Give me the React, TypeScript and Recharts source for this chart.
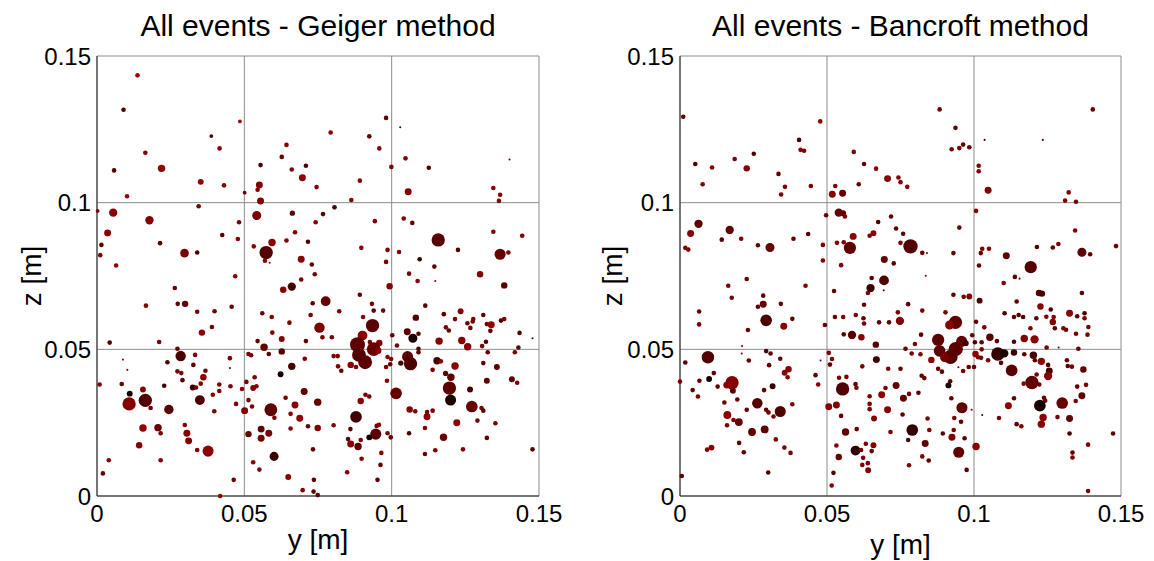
import {
  ScatterChart,
  Scatter,
  XAxis,
  YAxis,
  ZAxis,
  CartesianGrid,
  Cell,
  Label,
} from 'recharts';

const FONT = '"Liberation Sans", Arial, Helvetica, sans-serif';

const AXIS_TICKS = [0, 0.05, 0.1, 0.15];

// [y (mm), z (mm), amplitude, shade (0 = black .. 1 = red)]
type EventRow = [number, number, number, number];

const geigerEvents: EventRow[] = [
  [13.75, 143.4, 5, 1], [9.0, 131.7, 5, 0.4], [48.5, 127.7, 4, 1], [38.8, 122.7, 4, 0.4],
  [41.6, 118.5, 5, 0.8], [16.4, 117.0, 5, 0.8], [5.8, 111.0, 5, 0.4], [21.9, 111.7, 10, 0.9],
  [35.2, 107.1, 7, 0.9], [43.1, 105.9, 5, 0.8], [10.2, 102.2, 5, 0.9], [50.1, 103.4, 4, 0.6],
  [55.5, 112.8, 5, 0.4], [55.1, 106.0, 9, 0.8], [54.5, 104.4, 5, 0.8], [55.5, 100.6, 9, 0.8],
  [64.3, 119.7, 5, 0.8], [62.7, 115.6, 5, 0.6], [66.1, 111.3, 5, 0.8], [70.9, 112.6, 5, 0.4],
  [69.7, 108.5, 9, 0.85], [0.2, 97.2, 4, 0.8], [5.5, 96.6, 12, 0.85], [17.8, 94.0, 12, 0.8],
  [3.6, 89.7, 9, 0.85], [1.5, 85.6, 5, 0.5], [1.1, 82.1, 5, 0.8], [6.5, 78.6, 5, 0.9],
  [21.4, 86.2, 5, 0.5], [29.7, 82.8, 13, 0.75], [34.0, 83.0, 5, 0.4], [34.5, 98.8, 5, 0.7],
  [48.2, 93.3, 5, 0.7], [42.5, 89.0, 5, 0.5], [47.8, 87.6, 5, 0.8], [54.2, 95.6, 14, 0.75],
  [53.2, 85.1, 5, 0.8], [59.4, 86.4, 10, 0.85], [57.4, 83.0, 28, 0.45], [57.0, 80.2, 5, 0.85],
  [58.6, 79.5, 2.5, 0.8], [66.3, 96.4, 6, 0.5], [67.2, 89.9, 5, 0.8], [64.3, 87.1, 5, 0.8],
  [71.6, 86.7, 5, 0.4], [69.3, 80.7, 9, 0.85],
  [98.1, 128.9, 5, 0.55], [102.9, 125.7, 2.5, 0.3], [79.3, 123.9, 5, 0.8], [92.4, 122.6, 5, 0.6],
  [95.8, 118.5, 5, 0.8], [104.7, 115.1, 5, 0.8], [99.9, 112.2, 5, 0.8], [112.6, 111.9, 5, 0.4],
  [140.0, 114.7, 2.5, 0.5], [74.5, 105.3, 5, 0.8], [89.2, 107.5, 5, 0.8], [105.6, 103.7, 9, 0.8],
  [86.3, 100.9, 5, 0.8], [134.5, 105.0, 5, 0.85], [136.8, 102.7, 5, 0.85], [136.4, 100.6, 5, 0.85],
  [80.6, 98.4, 5, 0.4], [76.7, 96.1, 5, 0.55], [74.2, 93.3, 5, 0.8], [94.3, 93.7, 5, 0.75],
  [104.1, 94.6, 5, 0.75], [107.0, 93.1, 5, 0.6], [115.8, 87.3, 28, 0.5], [134.5, 90.1, 5, 0.8],
  [144.3, 88.7, 5, 0.8], [89.7, 84.6, 5, 0.8], [98.6, 83.9, 5, 0.8], [102.5, 83.2, 5, 0.8],
  [122.5, 83.9, 5, 0.45], [136.8, 82.4, 20, 0.6], [139.6, 83.0, 5, 0.8], [72.9, 78.9, 5, 0.55],
  [98.1, 79.8, 5, 0.75], [109.5, 80.7, 5, 0.3], [114.5, 78.2, 5, 0.5],
  [46.9, 74.9, 5, 0.8], [26.4, 70.9, 5, 0.6], [16.6, 64.9, 5, 0.85], [27.4, 65.5, 5, 0.6],
  [29.9, 65.5, 8, 0.55], [34.0, 62.8, 5, 0.7], [39.9, 63.0, 5, 0.7], [45.7, 64.5, 5, 0.6],
  [35.6, 55.7, 8, 0.9], [39.0, 57.6, 5, 0.6], [21.1, 52.5, 5, 0.7], [4.3, 52.3, 5, 0.4],
  [27.3, 50.2, 5, 0.5], [28.4, 47.7, 18, 0.4], [33.3, 48.1, 5, 0.75], [23.9, 45.6, 5, 0.4],
  [8.8, 46.5, 2.5, 0.8], [10.3, 43.0, 2.5, 0.8], [27.3, 42.5, 5, 0.75], [28.6, 41.9, 5, 0.75],
  [32.7, 44.7, 5, 0.55], [36.8, 42.7, 5, 0.75], [36.1, 40.5, 8, 0.8], [29.0, 39.5, 5, 0.55],
  [35.2, 38.3, 5, 0.8], [32.5, 37.0, 7, 0.25], [33.6, 37.0, 5, 0.6], [22.8, 37.6, 5, 0.35],
  [8.4, 38.2, 5, 0.6], [0.9, 38.0, 5, 0.8], [11.1, 34.9, 7, 0.0], [15.6, 36.3, 7, 0.85],
  [10.9, 31.4, 28, 0.8], [16.4, 32.6, 28, 0.45], [18.2, 30.0, 5, 0.7], [24.4, 29.5, 15, 0.5],
  [34.9, 32.7, 16, 0.4], [39.3, 34.5, 5, 0.8], [41.5, 38.0, 5, 0.8], [41.5, 35.8, 5, 0.8],
  [45.1, 47.0, 5, 0.75], [45.1, 43.6, 2.5, 0.8], [45.3, 37.4, 5, 0.8], [47.2, 31.4, 5, 0.75],
  [39.8, 28.9, 5, 0.75], [15.6, 23.2, 10, 0.9], [20.7, 23.3, 10, 0.6], [21.6, 21.4, 5, 0.7],
  [29.8, 24.2, 5, 0.75], [30.5, 21.4, 9, 0.8], [31.1, 18.8, 9, 0.8], [14.3, 17.3, 8, 0.8],
  [34.0, 15.7, 5, 0.8], [37.7, 15.3, 20, 0.85], [4.0, 12.2, 5, 0.8], [21.6, 12.2, 5, 0.8],
  [2.0, 7.7, 5, 0.6], [46.4, 5.5, 5, 0.6], [41.8, 0.0, 5, 0.9],
  [51.4, 48.4, 5, 0.75], [52.3, 48.0, 5, 0.75], [54.5, 52.8, 5, 0.6], [56.7, 50.7, 10, 0.6],
  [56.1, 62.3, 5, 0.6], [59.3, 61.0, 5, 0.75], [59.5, 55.7, 5, 0.75], [62.7, 53.5, 7, 0.8],
  [62.7, 49.3, 8, 0.45], [58.3, 48.4, 5, 0.55], [65.3, 59.1, 5, 0.7], [63.2, 70.3, 8, 0.85],
  [66.1, 71.4, 12, 0.3], [69.3, 73.8, 5, 0.8], [70.9, 52.8, 5, 0.55], [72.5, 61.7, 5, 0.75],
  [70.5, 46.8, 5, 0.75], [66.1, 44.2, 10, 0.35], [62.3, 41.5, 7, 0.0], [53.5, 40.5, 5, 0.75],
  [50.7, 38.9, 5, 0.75], [49.2, 36.5, 5, 0.8], [53.0, 36.8, 7, 0.8], [54.1, 37.4, 5, 0.8],
  [51.4, 32.7, 5, 0.75], [52.6, 30.5, 5, 0.7], [50.1, 29.1, 9, 0.8], [59.0, 29.4, 26, 0.55],
  [60.2, 26.7, 5, 0.75], [64.0, 33.5, 5, 0.7], [67.2, 31.0, 9, 0.85], [65.7, 28.0, 5, 0.8],
  [68.8, 26.5, 9, 0.9], [70.3, 35.6, 9, 0.55], [71.6, 23.8, 5, 0.55], [65.7, 23.0, 5, 0.8],
  [51.4, 21.1, 8, 0.6], [55.7, 22.8, 9, 0.55], [55.7, 19.7, 9, 0.7], [58.3, 21.4, 9, 0.75],
  [60.1, 13.5, 14, 0.25], [53.0, 11.5, 5, 0.8], [55.1, 9.0, 5, 0.8], [64.9, 6.5, 7, 0.8],
  [69.8, 2.0, 5, 0.8],
  [73.9, 75.6, 5, 0.75], [105.9, 75.8, 5, 0.8], [108.8, 73.3, 5, 0.8], [114.8, 73.3, 2.5, 0.8],
  [130.0, 75.6, 8, 0.8], [138.2, 71.8, 8, 0.5], [99.3, 71.5, 8, 0.8], [89.2, 68.6, 5, 0.55],
  [77.6, 66.4, 16, 0.55], [73.2, 65.7, 5, 0.55], [93.3, 65.5, 5, 0.75], [93.9, 63.2, 5, 0.55],
  [97.1, 63.2, 5, 0.7], [82.2, 63.0, 5, 0.8], [111.4, 64.9, 5, 0.5], [117.7, 62.0, 5, 0.5],
  [123.4, 63.0, 7, 0.8], [131.1, 61.7, 5, 0.5], [108.2, 60.8, 8, 0.4], [90.3, 61.0, 5, 0.8],
  [93.5, 58.1, 28, 0.5], [75.5, 57.4, 18, 0.75], [90.1, 54.7, 16, 0.85], [76.5, 54.1, 5, 0.75],
  [79.7, 54.1, 5, 0.75], [88.4, 51.6, 35, 0.55], [92.6, 52.5, 5, 0.75], [95.8, 52.2, 8, 0.8],
  [93.9, 50.1, 30, 0.6], [95.4, 49.5, 8, 0.8], [88.9, 48.1, 30, 0.45], [91.0, 45.6, 30, 0.5],
  [80.3, 47.7, 5, 0.75], [81.7, 47.7, 5, 0.75], [81.8, 44.2, 5, 0.75], [82.9, 42.7, 5, 0.55],
  [86.1, 44.7, 8, 0.85], [87.9, 44.0, 5, 0.75], [98.6, 47.4, 5, 0.8], [99.8, 46.7, 5, 0.8],
  [98.1, 44.0, 5, 0.8], [99.5, 44.9, 5, 0.55], [100.2, 54.8, 5, 0.55], [101.8, 51.3, 5, 0.75],
  [105.3, 56.0, 9, 0.5], [107.2, 53.8, 14, 0.0], [109.1, 55.3, 5, 0.5], [109.1, 50.2, 5, 0.4],
  [109.1, 49.0, 5, 0.5], [105.4, 47.5, 20, 0.55], [106.4, 45.1, 28, 0.4], [103.1, 45.3, 6, 0.4],
  [116.1, 52.8, 10, 0.8], [121.5, 60.3, 5, 0.75], [118.4, 57.5, 5, 0.75], [119.4, 56.4, 5, 0.55],
  [123.8, 53.0, 10, 0.8], [125.8, 50.9, 10, 0.8], [125.7, 58.9, 5, 0.6], [126.7, 57.3, 5, 0.7],
  [127.5, 59.5, 5, 0.75], [127.7, 60.3, 5, 0.75], [132.3, 58.6, 5, 0.75], [133.8, 58.4, 9, 0.85],
  [133.5, 56.3, 5, 0.55], [137.1, 59.8, 5, 0.4], [138.2, 60.3, 5, 0.75], [143.4, 55.6, 5, 0.5],
  [147.8, 53.8, 2.5, 0.5], [132.0, 52.6, 5, 0.5], [130.7, 51.1, 5, 0.75], [132.6, 49.0, 5, 0.55],
  [143.0, 50.6, 5, 0.55], [141.8, 49.0, 5, 0.75], [115.4, 46.1, 10, 0.35], [116.7, 45.9, 5, 0.85],
  [113.9, 43.0, 5, 0.75], [121.5, 44.3, 10, 0.85], [118.3, 41.8, 6, 0.5], [120.1, 40.5, 10, 0.5],
  [119.6, 36.8, 28, 0.55], [120.0, 32.7, 20, 0.05], [126.6, 36.3, 7, 0.35], [131.1, 45.3, 5, 0.5],
  [135.7, 44.0, 7, 0.5], [132.3, 39.3, 7, 0.55], [140.8, 39.8, 7, 0.55], [142.6, 38.6, 5, 0.75],
  [127.2, 30.5, 22, 0.6], [130.5, 30.0, 5, 0.75], [131.1, 29.1, 5, 0.55], [129.1, 25.7, 5, 0.75],
  [135.2, 24.8, 5, 0.75], [122.1, 25.0, 9, 0.85], [117.6, 20.0, 10, 0.6], [124.2, 15.9, 5, 0.8],
  [132.3, 19.8, 5, 0.55], [147.8, 15.9, 5, 0.5], [113.9, 29.1, 5, 0.75], [112.0, 28.6, 5, 0.75],
  [112.0, 27.0, 9, 0.85], [111.3, 23.2, 5, 0.75], [106.1, 29.5, 8, 0.8], [108.0, 28.9, 5, 0.75],
  [105.9, 21.4, 5, 0.35], [114.8, 15.6, 5, 0.75], [111.3, 14.3, 5, 0.55], [101.5, 35.0, 22, 0.6],
  [98.4, 39.3, 5, 0.8], [99.7, 20.0, 5, 0.55], [98.6, 21.4, 5, 0.75], [94.6, 21.1, 20, 0.5],
  [92.4, 20.0, 7, 0.05], [95.7, 24.3, 5, 0.8], [94.9, 23.9, 5, 0.8], [87.9, 27.0, 22, 0.3],
  [89.5, 32.4, 8, 0.85], [91.1, 34.5, 5, 0.75], [92.4, 33.9, 5, 0.75], [86.0, 22.8, 5, 0.5],
  [85.2, 19.4, 5, 0.55], [86.1, 17.7, 9, 0.8], [88.6, 16.9, 10, 0.5], [89.5, 19.1, 5, 0.8],
  [80.3, 24.1, 5, 0.8], [74.9, 32.0, 10, 0.6], [74.9, 23.2, 8, 0.8], [73.3, 15.9, 5, 0.55],
  [96.5, 14.7, 5, 0.8], [89.8, 12.7, 5, 0.8], [96.2, 10.6, 5, 0.55], [84.9, 8.1, 5, 0.8],
  [95.2, 5.5, 5, 0.55], [73.6, 5.5, 5, 0.55], [73.5, 1.5, 5, 0.55], [74.9, 0.3, 5, 0.6],
];

const bancroftEvents: EventRow[] = [
  [1.1, 129.3, 5, 0.55], [47.7, 127.7, 5, 0.85], [40.5, 121.4, 5, 0.4], [41.0, 118.0, 5, 0.8],
  [42.2, 117.7, 5, 0.8], [5.2, 113.2, 5, 0.4], [10.9, 112.0, 5, 0.8], [18.6, 114.9, 5, 0.75],
  [25.1, 116.7, 5, 0.4], [22.7, 111.7, 8, 0.85], [7.7, 106.3, 5, 0.8], [33.5, 109.8, 5, 0.55],
  [35.7, 105.4, 5, 0.75], [34.4, 102.8, 5, 0.75], [44.5, 105.7, 5, 0.75], [59.1, 117.3, 5, 0.8],
  [62.6, 113.2, 5, 0.55], [66.7, 111.6, 5, 0.8], [70.6, 108.2, 9, 0.85], [60.8, 106.3, 5, 0.55],
  [52.8, 105.7, 5, 0.8], [51.8, 102.9, 9, 0.85], [55.3, 103.2, 9, 0.6], [49.7, 95.7, 5, 0.6],
  [54.0, 96.6, 12, 0.55], [55.5, 96.4, 7, 0.55], [56.1, 95.3, 5, 0.75], [6.3, 92.8, 12, 0.55],
  [3.6, 89.5, 9, 0.85], [16.9, 90.7, 12, 0.55], [14.2, 87.4, 5, 0.4], [20.8, 87.7, 5, 0.75],
  [26.5, 85.5, 5, 0.55], [30.6, 84.7, 14, 0.6], [38.6, 87.7, 5, 0.55], [43.6, 89.3, 5, 0.5],
  [1.8, 84.6, 5, 0.8], [2.8, 84.0, 5, 0.8], [48.6, 85.6, 5, 0.75], [48.6, 80.3, 5, 0.8],
  [53.4, 86.3, 5, 0.8], [55.7, 86.5, 5, 0.75], [58.9, 88.5, 9, 0.85], [57.8, 84.6, 24, 0.55],
  [54.8, 78.7, 5, 0.8], [64.5, 88.7, 5, 0.8], [65.8, 89.6, 7, 0.85], [67.4, 93.4, 5, 0.4],
  [71.8, 95.3, 5, 0.55], [69.5, 80.6, 9, 0.6], [72.7, 79.3, 5, 0.55],
  [88.3, 131.8, 5, 0.6], [140.4, 131.8, 5, 0.6], [93.7, 125.5, 5, 0.6], [103.6, 121.4, 2.5, 0.3],
  [123.4, 121.4, 2.5, 0.5], [92.4, 118.2, 5, 0.75], [95.0, 118.6, 5, 0.75], [96.3, 119.8, 5, 0.6],
  [98.4, 118.9, 5, 0.6], [101.6, 112.6, 5, 0.75], [101.6, 110.7, 5, 0.75], [74.3, 108.6, 5, 0.8],
  [75.0, 107.0, 5, 0.8], [77.3, 105.4, 5, 0.8], [104.8, 104.2, 9, 0.8], [132.2, 103.5, 5, 0.8],
  [131.0, 100.7, 5, 0.75], [134.7, 100.3, 5, 0.75], [100.7, 97.2, 5, 0.8], [73.5, 91.2, 5, 0.55],
  [75.9, 89.4, 5, 0.55], [75.0, 86.3, 5, 0.75], [78.4, 85.1, 32, 0.45], [82.4, 82.9, 5, 0.6],
  [84.0, 82.8, 2.5, 0.8], [95.0, 91.5, 5, 0.6], [93.0, 82.8, 5, 0.6], [102.8, 84.3, 5, 0.75],
  [105.1, 84.3, 5, 0.75], [102.3, 82.8, 5, 0.6], [101.7, 78.6, 5, 0.6], [111.0, 81.9, 9, 0.55],
  [121.4, 84.9, 5, 0.4], [126.8, 84.7, 5, 0.55], [128.7, 85.9, 5, 0.75], [134.4, 90.5, 5, 0.8],
  [136.7, 83.1, 14, 0.55], [139.5, 82.4, 5, 0.55], [148.3, 85.2, 5, 0.6], [119.3, 78.0, 24, 0.45],
  [22.7, 74.0, 5, 0.55], [16.4, 71.7, 5, 0.75], [17.6, 67.6, 5, 0.75], [42.7, 71.7, 5, 0.8],
  [28.3, 68.3, 5, 0.55], [28.3, 65.4, 9, 0.55], [26.5, 64.5, 5, 0.55], [34.3, 65.5, 5, 0.55],
  [6.5, 62.9, 5, 0.55], [6.5, 58.5, 5, 0.75], [29.3, 59.9, 22, 0.4], [38.2, 60.4, 5, 0.55],
  [35.3, 57.9, 9, 0.85], [23.1, 56.6, 5, 0.55], [21.1, 51.1, 2.5, 0.8], [21.0, 48.6, 2.5, 0.8],
  [9.5, 47.3, 25, 0.45], [1.8, 45.5, 5, 0.5], [23.4, 46.2, 5, 0.55], [29.3, 49.4, 5, 0.4],
  [30.8, 48.6, 5, 0.55], [34.1, 46.8, 5, 0.55], [30.3, 44.6, 5, 0.55], [36.9, 43.2, 8, 0.85],
  [35.6, 42.0, 7, 0.85], [36.6, 40.5, 5, 0.8], [11.5, 41.9, 5, 0.55], [9.9, 39.9, 7, 0.0],
  [6.6, 39.3, 5, 0.6], [0.0, 39.0, 5, 0.75], [4.3, 36.1, 5, 0.55], [6.1, 33.9, 5, 0.75],
  [12.8, 37.3, 5, 0.55], [17.7, 38.6, 28, 0.8], [15.9, 37.8, 9, 0.85], [18.0, 35.9, 7, 0.5],
  [19.5, 32.9, 5, 0.55], [15.1, 31.9, 5, 0.55], [28.6, 36.1, 5, 0.55], [31.5, 37.4, 7, 0.25],
  [26.3, 31.6, 18, 0.45], [22.7, 29.4, 5, 0.55], [29.3, 29.4, 5, 0.55], [30.1, 28.5, 5, 0.75],
  [31.8, 27.1, 5, 0.75], [34.1, 28.8, 20, 0.45], [38.2, 31.3, 5, 0.75], [16.1, 27.6, 11, 0.85],
  [16.0, 24.1, 5, 0.75], [18.2, 25.9, 5, 0.75], [20.0, 25.2, 11, 0.55], [24.5, 21.8, 11, 0.55],
  [28.8, 22.7, 11, 0.55], [32.6, 19.3, 5, 0.75], [20.1, 18.1, 5, 0.55], [21.7, 14.9, 5, 0.55],
  [9.2, 15.8, 5, 0.75], [10.7, 16.5, 7, 0.8], [35.5, 16.5, 5, 0.75], [37.6, 14.7, 5, 0.75],
  [30.0, 8.0, 5, 0.4], [0.6, 6.8, 5, 0.55], [49.3, 58.3, 5, 0.55], [47.8, 46.2, 2.5, 0.8],
  [46.1, 41.2, 5, 0.55], [47.0, 38.0, 5, 0.75],
  [52.4, 69.9, 5, 0.55], [52.7, 61.0, 5, 0.55], [55.5, 61.0, 5, 0.75], [55.7, 55.1, 5, 0.55],
  [58.5, 54.9, 12, 0.5], [61.7, 54.1, 8, 0.85], [59.8, 61.7, 5, 0.75], [62.4, 60.6, 5, 0.55],
  [62.6, 58.8, 5, 0.75], [62.6, 65.2, 5, 0.55], [63.9, 69.2, 5, 0.8], [64.8, 70.9, 12, 0.3],
  [65.2, 74.3, 5, 0.55], [69.3, 70.1, 2.5, 0.8], [69.4, 73.5, 16, 0.45], [67.7, 59.2, 5, 0.55],
  [71.1, 59.2, 5, 0.55], [66.6, 51.6, 8, 0.5], [66.8, 46.5, 9, 0.3], [50.6, 48.8, 5, 0.75],
  [51.7, 46.7, 5, 0.75], [51.0, 44.8, 5, 0.55], [54.1, 40.3, 5, 0.75], [56.6, 40.6, 5, 0.75],
  [55.3, 36.5, 28, 0.45], [59.7, 38.2, 5, 0.55], [60.0, 36.9, 5, 0.75], [62.0, 44.2, 5, 0.75],
  [70.8, 43.4, 5, 0.75], [69.9, 36.8, 5, 0.75], [64.5, 34.0, 5, 0.75], [68.6, 34.5, 9, 0.85],
  [64.5, 31.4, 5, 0.75], [64.5, 29.6, 5, 0.75], [70.6, 29.4, 9, 0.85], [66.0, 26.4, 7, 0.8],
  [50.6, 30.4, 9, 0.8], [53.2, 31.0, 9, 0.8], [54.8, 27.3, 5, 0.55], [56.3, 21.8, 10, 0.55],
  [60.1, 22.8, 5, 0.55], [71.6, 21.8, 5, 0.75], [53.2, 17.2, 5, 0.75], [59.7, 15.5, 16, 0.2],
  [61.6, 15.7, 5, 0.75], [63.2, 17.8, 5, 0.75], [65.8, 17.3, 7, 0.8], [65.2, 15.3, 5, 0.55],
  [54.0, 13.3, 8, 0.55], [62.3, 13.0, 5, 0.75], [63.9, 11.2, 5, 0.75], [62.0, 10.6, 5, 0.75],
  [64.0, 8.8, 7, 0.8], [52.2, 7.9, 5, 0.4], [51.6, 3.6, 5, 0.75],
  [83.6, 75.1, 2.5, 0.8], [113.9, 74.7, 5, 0.5], [115.5, 74.1, 2.5, 0.8], [110.1, 72.6, 5, 0.8],
  [93.0, 68.6, 5, 0.55], [96.5, 67.9, 5, 0.75], [98.4, 68.0, 7, 0.8], [101.9, 66.6, 7, 0.4],
  [77.6, 65.4, 5, 0.55], [74.1, 62.6, 5, 0.75], [82.4, 63.2, 5, 0.75], [90.3, 62.6, 5, 0.75],
  [74.8, 59.7, 12, 0.8], [93.7, 59.2, 28, 0.55], [91.7, 58.3, 14, 0.85], [100.7, 59.4, 5, 0.55],
  [103.5, 57.5, 5, 0.75], [114.5, 66.3, 5, 0.5], [110.4, 62.3, 5, 0.4], [113.6, 61.0, 5, 0.5],
  [115.2, 61.7, 5, 0.5], [116.7, 61.0, 5, 0.4], [121.2, 60.6, 5, 0.55], [122.1, 69.2, 8, 0.5],
  [123.1, 69.0, 8, 0.35], [136.7, 69.2, 5, 0.5], [122.6, 64.6, 8, 0.85], [126.1, 63.6, 5, 0.4],
  [124.6, 61.1, 5, 0.75], [127.1, 61.0, 5, 0.75], [126.8, 59.3, 8, 0.85], [132.5, 62.3, 9, 0.85],
  [135.1, 61.3, 5, 0.5], [137.6, 62.3, 5, 0.4], [137.6, 60.6, 5, 0.75], [127.5, 57.2, 5, 0.5],
  [130.4, 57.2, 5, 0.75], [131.3, 56.7, 5, 0.75], [134.7, 55.3, 5, 0.75], [138.9, 57.6, 5, 0.75],
  [138.6, 55.0, 5, 0.75], [119.2, 57.2, 5, 0.75], [117.1, 53.7, 10, 0.8], [120.6, 53.4, 12, 0.85],
  [113.6, 52.6, 5, 0.4], [107.8, 52.8, 5, 0.5], [105.4, 54.1, 10, 0.5], [87.8, 53.2, 24, 0.55],
  [95.8, 52.7, 20, 0.55], [97.2, 52.1, 7, 0.35], [93.8, 50.1, 32, 0.5], [88.3, 49.5, 22, 0.55],
  [92.0, 47.4, 32, 0.5], [90.0, 47.2, 14, 0.7], [99.4, 54.8, 5, 0.55], [100.3, 52.4, 5, 0.4],
  [102.6, 52.4, 5, 0.55], [102.6, 50.0, 5, 0.75], [100.5, 48.4, 8, 0.85], [101.4, 47.3, 5, 0.75],
  [102.4, 47.1, 5, 0.75], [104.8, 46.3, 5, 0.75], [108.1, 48.4, 28, 0.25], [110.3, 48.6, 12, 0.05],
  [109.2, 45.4, 5, 0.5], [113.6, 48.9, 8, 0.35], [117.1, 48.3, 5, 0.5], [120.2, 48.0, 10, 0.35],
  [120.7, 46.3, 5, 0.55], [122.9, 45.9, 10, 0.85], [124.7, 50.6, 5, 0.75], [128.8, 50.6, 2.5, 0.7],
  [135.5, 50.2, 5, 0.55], [131.6, 46.3, 5, 0.5], [131.9, 44.3, 5, 0.5], [133.3, 44.1, 5, 0.75],
  [125.2, 44.7, 5, 0.4], [125.6, 42.6, 9, 0.35], [125.2, 40.9, 12, 0.85], [137.2, 43.1, 8, 0.55],
  [121.3, 41.4, 5, 0.75], [119.7, 38.7, 28, 0.55], [116.9, 38.3, 5, 0.85], [122.2, 38.0, 5, 0.55],
  [112.8, 42.8, 22, 0.5], [135.1, 37.3, 5, 0.55], [138.1, 37.9, 5, 0.75], [136.7, 34.2, 9, 0.55],
  [134.6, 32.4, 5, 0.75], [130.0, 31.7, 22, 0.6], [123.8, 33.5, 5, 0.55], [124.2, 32.5, 5, 0.75],
  [122.4, 30.8, 22, 0.0], [123.5, 26.8, 10, 0.85], [122.9, 24.5, 10, 0.85], [128.4, 26.9, 5, 0.75],
  [132.5, 26.4, 9, 0.55], [132.5, 21.3, 5, 0.35], [147.3, 21.3, 5, 0.55], [138.8, 17.5, 5, 0.75],
  [133.5, 14.8, 5, 0.5], [133.5, 13.1, 5, 0.75], [138.8, 1.7, 5, 0.75], [111.7, 30.8, 9, 0.85],
  [113.6, 33.3, 5, 0.5], [114.5, 24.5, 5, 0.5], [116.1, 23.8, 5, 0.75], [108.5, 26.6, 5, 0.75],
  [102.8, 27.6, 2.5, 0.5], [99.2, 29.4, 2.5, 0.8], [95.9, 30.1, 20, 0.55], [92.3, 33.3, 5, 0.55],
  [91.9, 39.1, 5, 0.5], [91.3, 37.7, 7, 0.0], [96.3, 42.6, 5, 0.75], [94.7, 43.9, 2.5, 0.7],
  [98.2, 44.0, 5, 0.55], [100.0, 44.0, 5, 0.55], [87.8, 43.4, 5, 0.55], [89.1, 42.4, 5, 0.55],
  [85.5, 46.4, 8, 0.85], [82.0, 55.0, 5, 0.55], [79.9, 51.8, 5, 0.75], [76.7, 50.2, 5, 0.55],
  [78.8, 48.6, 5, 0.75], [81.8, 48.3, 5, 0.75], [75.0, 43.4, 5, 0.5], [82.2, 41.0, 5, 0.55],
  [83.1, 40.2, 5, 0.55], [73.5, 37.7, 9, 0.55], [77.9, 34.8, 5, 0.75], [81.1, 35.2, 5, 0.5],
  [76.0, 33.3, 9, 0.55], [75.7, 27.8, 5, 0.55], [84.2, 26.4, 5, 0.8], [93.3, 26.6, 5, 0.75],
  [95.6, 25.3, 5, 0.5], [79.0, 22.5, 22, 0.25], [84.8, 22.5, 5, 0.75], [89.4, 21.3, 5, 0.5],
  [93.1, 22.5, 5, 0.75], [92.5, 20.0, 9, 0.8], [96.8, 19.7, 5, 0.5], [77.6, 19.1, 5, 0.5],
  [83.4, 17.9, 9, 0.55], [94.8, 14.9, 20, 0.55], [100.7, 16.9, 10, 0.85], [82.4, 13.5, 5, 0.75],
  [84.6, 12.1, 5, 0.5], [77.9, 10.5, 5, 0.75], [97.5, 8.9, 5, 0.5],
];

// dark red -> black colour scale used by the original scatter
const shadeColor = (c: number) => `rgb(${Math.round(20 + c * 140)},0,0)`;

interface PanelProps {
  title: string;
  events: EventRow[];
  left: number;
  width: number;
  marginRight: number;
  xLabelOffset: number;
  zLabelOffset: number;
}

function EventPanel({ title, events, left, width, marginRight, xLabelOffset, zLabelOffset }: PanelProps) {
  const data = events.map(([y, z, a, c]) => ({ y: y / 1000, z: z / 1000, a, c }));
  const plotWidth = width - 97 - marginRight;

  return (
    <div style={{ position: 'absolute', left, top: 0, width, height: 561 }}>
      <div
        style={{
          position: 'absolute',
          top: 11,
          left: 97,
          width: plotWidth,
          textAlign: 'center',
          fontFamily: FONT,
          fontSize: 30,
          lineHeight: '30px',
          color: '#000',
          whiteSpace: 'nowrap',
        }}
      >
        {title}
      </div>
      <ScatterChart
        width={width}
        height={561}
        margin={{ top: 56, right: marginRight, bottom: 0, left: 0 }}
      >
        <CartesianGrid stroke="#8c8c8c" strokeWidth={1} />
        <XAxis
          type="number"
          dataKey="y"
          domain={[0, 0.15]}
          ticks={AXIS_TICKS}
          tickFormatter={(v) => String(v)}
          height={65}
          tickLine={false}
          tickSize={0}
          tickMargin={9}
          axisLine={{ stroke: '#262626' }}
          tick={{ fontSize: 24, fill: '#000', fontFamily: FONT }}
        >
          <Label
            value="y [m]"
            position="insideBottom"
            offset={xLabelOffset}
            style={{ fontSize: 28, fill: '#000', fontFamily: FONT }}
          />
        </XAxis>
        <YAxis
          type="number"
          dataKey="z"
          domain={[0, 0.15]}
          ticks={AXIS_TICKS}
          tickFormatter={(v) => String(v)}
          width={97}
          tickLine={false}
          tickSize={0}
          tickMargin={6}
          axisLine={{ stroke: '#262626' }}
          tick={{ fontSize: 24, fill: '#000', fontFamily: FONT }}
        >
          <Label
            value="z [m]"
            angle={-90}
            position="insideLeft"
            offset={zLabelOffset}
            style={{ textAnchor: 'middle', fontSize: 28, fill: '#000', fontFamily: FONT }}
          />
        </YAxis>
        <ZAxis type="number" dataKey="a" domain={[0, 40]} range={[-10, 203]} />
        <Scatter data={data} isAnimationActive={false}>
          {data.map((d, i) => (
            <Cell key={i} fill={shadeColor(d.c)} />
          ))}
        </Scatter>
      </ScatterChart>
    </div>
  );
}

export default function App() {
  return (
    <div style={{ position: 'absolute', left: 0, top: 0, width: 1154, height: 561, background: '#fff' }}>
      <EventPanel
        title="All events - Geiger method"
        events={geigerEvents}
        left={0}
        width={580}
        marginRight={41}
        xLabelOffset={12}
        zLabelOffset={31}
      />
      <EventPanel
        title="All events - Bancroft method"
        events={bancroftEvents}
        left={583}
        width={571}
        marginRight={33}
        xLabelOffset={7}
        zLabelOffset={29}
      />
    </div>
  );
}
